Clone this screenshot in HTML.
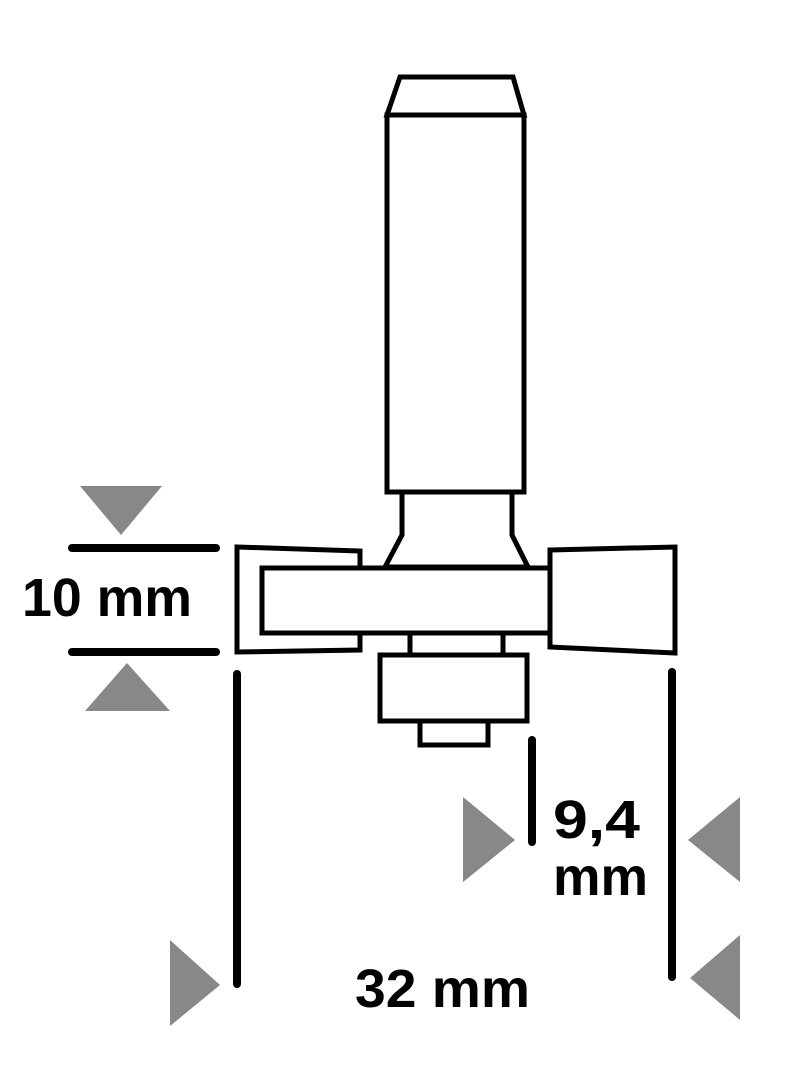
<html><body style="margin:0;background:#fff">
<svg width="802" height="1080" xmlns="http://www.w3.org/2000/svg">
<g fill="#fff" stroke="#000" stroke-width="5" stroke-linejoin="miter">
<polygon points="387,115 400,77 513,77 524,115"/>
<rect x="387" y="115" width="137" height="377"/>
<polygon points="402,492 512,492 512,535 528,567 385,567 402,535"/>
<polygon points="237,547 360,551 360,650 237,652"/>
<polygon points="550,550 675,547 675,653 550,647"/>
<rect x="262" y="568" width="288" height="65"/>
<rect x="410" y="633" width="93" height="22"/>
<rect x="380" y="655" width="147" height="66"/>
<rect x="420" y="721" width="68" height="24"/>
</g>
<g stroke="#000" stroke-width="8" stroke-linecap="round">
<line x1="237" y1="674" x2="237" y2="984"/>
<line x1="672" y1="672" x2="672" y2="977"/>
<line x1="532" y1="740" x2="532" y2="842"/>
<line x1="72" y1="548" x2="216" y2="548"/>
<line x1="72" y1="652" x2="216" y2="652"/>
</g>
<g fill="#888">
<polygon points="80,486 162,486 121,535"/>
<polygon points="85,711 170,711 127,663"/>
<polygon points="170,940 170,1026 220,985"/>
<polygon points="463,797 463,882 515,840"/>
<polygon points="740,797 740,882 688,840"/>
<polygon points="740,935 740,1020 690,978"/>
</g>
<g font-family="Liberation Sans, sans-serif" font-weight="bold" font-size="54" fill="#000">
<text x="22" y="616" textLength="170" lengthAdjust="spacingAndGlyphs">10 mm</text>
<text x="553" y="838" textLength="87" lengthAdjust="spacingAndGlyphs">9,4</text>
<text x="553" y="895" textLength="95" lengthAdjust="spacingAndGlyphs">mm</text>
<text x="355" y="1007" textLength="175" lengthAdjust="spacingAndGlyphs">32 mm</text>
</g>
</svg>
</body></html>
